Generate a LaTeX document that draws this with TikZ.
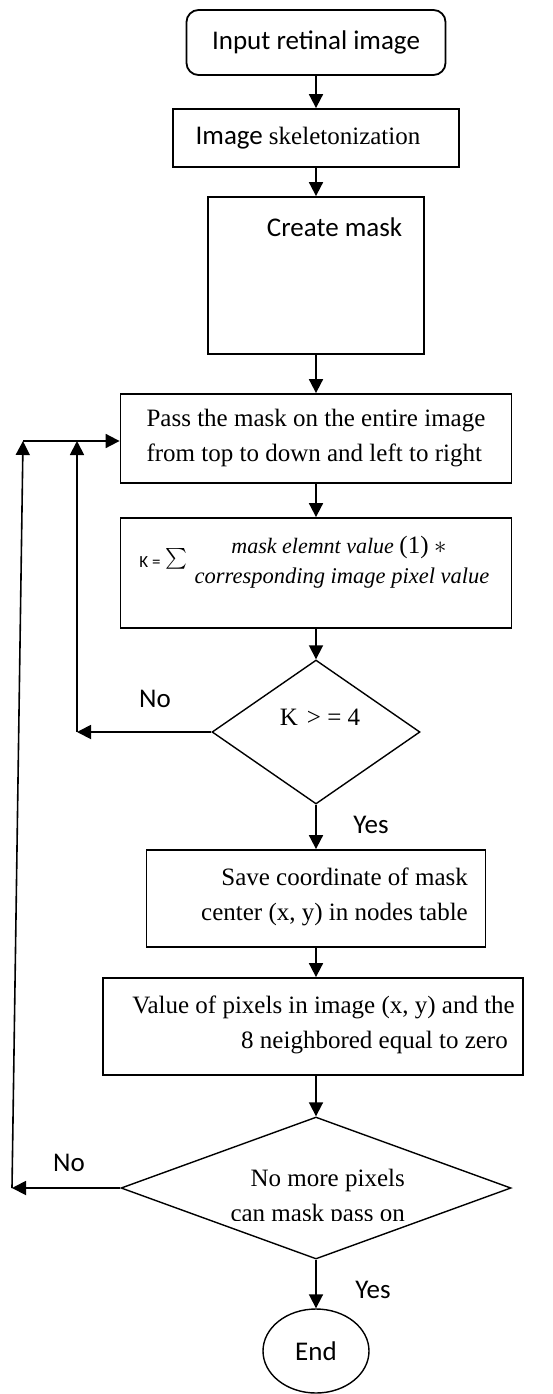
\documentclass[tikz,border=0pt]{standalone}
\usepackage{amsmath}
\usepackage{fontspec}
\setmainfont{Liberation Serif}
\newfontfamily\calib{Carlito}
\usetikzlibrary{shapes.geometric,arrows.meta}

\newcommand\sansfs{\calib\fontsize{27}{32}\selectfont}
\newcommand\seriffs{\fontsize{25}{35}\selectfont}

\begin{document}
\begin{tikzpicture}[x=1pt,y=-1pt,
  box/.style={draw, rectangle, line width=1.8pt, inner sep=0pt},
  dec/.style={draw, diamond, line width=1.4pt, inner sep=0pt},
  arr/.style={line width=1.8pt, -{Triangle[length=14pt,width=14pt]}},
  lbl/.style={font=\sansfs, inner sep=0pt}]
\useasboundingbox (0,0) rectangle (553,1394);

% process blocks
\node[box, rounded corners=12pt, minimum width=259pt, minimum height=65pt, font=\sansfs]
  (start) at (316,42.5) {Input retinal image};
\node[box, minimum width=286pt, minimum height=58pt]
  (skel) at (316,138) {{\sansfs Image }{\seriffs skeletonization}\hspace*{16pt}};
\node[box, minimum width=216pt, minimum height=157pt] (mask) at (316,275.5) {};
\node[lbl] (masktxt) at (334.5,227) {Create mask};
\node[box, minimum width=391pt, minimum height=89pt, align=left, font=\seriffs]
  (pass) at (316,438.5) {Pass the mask on the entire image\\from top to down and left to right};

% the sum block
\node[box, minimum width=391pt, minimum height=110pt] (kbox) at (316,573) {};
\node[inner sep=0pt, font=\calib\fontsize{17}{20}\selectfont] (keq) at (150,562) {K =};
\node[inner sep=0pt] (sig) at (176,559) {\fontsize{21}{21}\selectfont$\sum$};
\node[inner sep=0pt] (num) at (339,547)
  {\fontsize{22}{24}\selectfont\itshape mask elemnt value \upshape{\fontsize{25}{25}\selectfont(1)} {\fontsize{24}{24}\selectfont$*$}};
\node[inner sep=0pt] (den) at (342,578)
  {\fontsize{22.5}{24}\selectfont\itshape corresponding image pixel value};

% first decision
\node[dec, minimum width=208pt, minimum height=144pt] (d1) at (316,732) {};
\node[inner sep=0pt, font=\seriffs] (d1txt) at (320,717) {K\hspace{9pt}> = 4};

\node[box, minimum width=339pt, minimum height=97pt] (save) at (316,898.5) {};
\node[inner sep=0pt, anchor=east, align=right, font=\seriffs] (savetxt) at (468,897)
  {Save coordinate of mask\\center (x, y) in nodes table};

\node[box, minimum width=420pt, minimum height=97pt] (zero) at (313,1026.5) {};
\node[inner sep=0pt, anchor=east, align=right, font=\seriffs] (zerotxt) at (515,1025)
  {Value of pixels in image (x, y) and the\\8 neighbored equal to zero\hspace*{7pt}};

% second decision
\node[dec, minimum width=390pt, minimum height=142pt] (d2) at (316,1188) {};
\begin{scope}
  \clip (180,1150) rectangle (450,1220);
  \node[inner sep=0pt, anchor=east, align=right, font=\seriffs] (d2txt) at (405,1198)
    {No more pixels\\can mask pass on};
\end{scope}

\node[draw, ellipse, line width=1.4pt, minimum width=106pt, minimum height=84pt, font=\sansfs]
  (end) at (316,1351) {End};

% main flow
\draw[arr] (start) -- (skel);
\draw[arr] (skel) -- (mask);
\draw[arr] (mask) -- (pass);
\draw[arr] (pass) -- (kbox);
\draw[arr] (kbox) -- (d1);
\draw[arr] (d1) -- (save);
\draw[arr] (save) -- (save |- zero.north);
\draw[arr] (zero.south -| d2) -- (d2);
\draw[arr] (d2) -- (end);

% feedback loops
\coordinate (j1) at (77,732);
\coordinate (m1) at (77,441);
\coordinate (j2) at (12,1188);
\coordinate (m2) at (23,441);
\draw[arr] (d1.west) -- (j1);
\draw[arr] (j1) -- (m1);
\draw[arr] (d2.west) -- (j2);
\draw[arr, line width=1.6pt] (j2) -- (m2);
\draw[arr] (m2) -- (m2 -| pass.west);

% branch labels
\node[lbl] (no1) at (155,699) {No};
\node[lbl] (yes1) at (371,825) {Yes};
\node[lbl] (no2) at (69,1163) {No};
\node[lbl] (yes2) at (373,1290) {Yes};
\end{tikzpicture}
\end{document}
